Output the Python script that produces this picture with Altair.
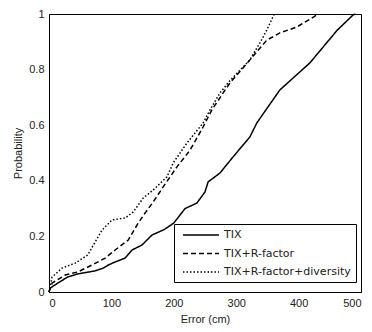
import altair as alt
import pandas as pd

series_names = ["TIX", "TIX+R-factor", "TIX+R-factor+diversity"]

tix_x = [0, 2, 14, 30, 46, 74, 87, 95, 106, 122, 133, 149, 165, 185, 200, 218, 237, 250, 255, 274, 295, 322, 333, 370, 418, 462, 487, 491]
tix_y = [0, 0.014, 0.032, 0.054, 0.065, 0.076, 0.086, 0.097, 0.108, 0.122, 0.151, 0.169, 0.205, 0.225, 0.248, 0.30, 0.32, 0.36, 0.396, 0.428, 0.486, 0.558, 0.608, 0.727, 0.824, 0.942, 0.996, 1.0]

rf_x = [0, 5, 26, 46, 69, 90, 106, 127, 143, 154, 167, 183, 205, 226, 247, 261, 279, 290, 322, 349, 370, 397, 429, 432]
rf_y = [0, 0.032, 0.061, 0.072, 0.097, 0.122, 0.151, 0.187, 0.248, 0.284, 0.324, 0.378, 0.45, 0.51, 0.594, 0.655, 0.716, 0.752, 0.835, 0.906, 0.932, 0.953, 0.996, 1.0]

div_x = [0, 5, 21, 42, 62, 85, 101, 122, 135, 151, 167, 189, 199, 221, 247, 258, 274, 290, 322, 338, 349, 361]
div_y = [0, 0.054, 0.086, 0.104, 0.133, 0.223, 0.259, 0.266, 0.288, 0.338, 0.367, 0.414, 0.464, 0.536, 0.608, 0.655, 0.716, 0.76, 0.835, 0.896, 0.942, 1.0]

rows = []
for name, xs, ys in [(series_names[0], tix_x, tix_y),
                     (series_names[1], rf_x, rf_y),
                     (series_names[2], div_x, div_y)]:
    for i, (a, b) in enumerate(zip(xs, ys)):
        rows.append({"series": name, "error": a, "prob": b, "order": i})
df = pd.DataFrame(rows)

font = "Liberation Sans"
legend_font = "DejaVu Sans"

chart = alt.Chart(df).mark_line(color="black", strokeWidth=1.5).encode(
    x=alt.X("error:Q", scale=alt.Scale(domain=[0, 500], nice=False),
            axis=alt.Axis(title="Error (cm)", values=[0, 100, 200, 300, 400, 500],
                          grid=False, ticks=False, labelPadding=5, titlePadding=5,
                          domainColor="black")),
    y=alt.Y("prob:Q", scale=alt.Scale(domain=[0, 1], nice=False),
            axis=alt.Axis(title="Probability", values=[0, 0.2, 0.4, 0.6, 0.8, 1],
                          format=".1~f", grid=False, ticks=False, labelPadding=5,
                          titlePadding=5, domainColor="black")),
    strokeDash=alt.StrokeDash("series:N",
                              scale=alt.Scale(domain=series_names,
                                              range=[[1, 0], [5, 3], [1.5, 2]]),
                              legend=alt.Legend(title=None, orient="none",
                                                legendX=125, legendY=210,
                                                fillColor="white", strokeColor="black",
                                                padding=5, symbolType="M-0.4,0H6.8",
                                                symbolSize=100, symbolStrokeWidth=1.5,
                                                symbolStrokeColor="black",
                                                symbolFillColor="transparent",
                                                labelFontSize=11, labelFont=legend_font,
                                                labelColor="#222", labelOffset=33,
                                                rowPadding=7.5, labelLimit=200)),
    order="order:Q",
).properties(
    width=312, height=278,
    autosize=alt.AutoSizeParams(type="none"),
    padding={"left": 41, "top": 6, "right": 3, "bottom": 36},
).configure_view(
    stroke="black", strokeWidth=1,
).configure_axis(
    labelFont=font, titleFont=font, labelFontSize=11, titleFontSize=11,
    labelColor="#222", titleColor="#222", titleFontWeight="normal",
)

chart.save("out.html", embed_options={"renderer": "svg", "actions": False})
